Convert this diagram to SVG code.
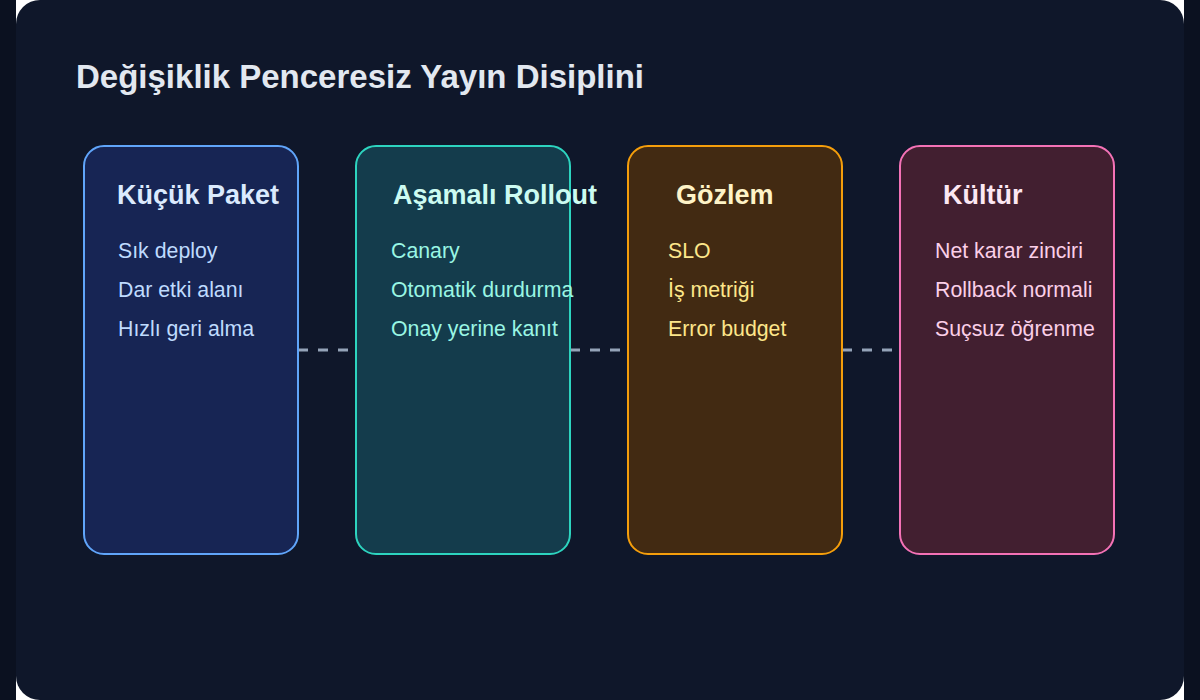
<svg xmlns="http://www.w3.org/2000/svg" width="1200" height="700" viewBox="0 0 1200 700">
<style>
.title{font-family:"Liberation Sans",Arial,sans-serif;font-weight:bold;font-size:33px;fill:#e2e8f0}
.ct{font-family:"Liberation Sans",Arial,sans-serif;font-weight:bold;font-size:27px}
.it{font-family:"Liberation Sans",Arial,sans-serif;font-size:21.3px}
.card{stroke-width:2}
.conn{stroke:#94a3b8;stroke-width:3;stroke-dasharray:10 10;fill:none}
</style>
<rect x="0" y="0" width="1200" height="700" fill="#0b1120"/>
<rect x="16" y="0" width="1168" height="700" fill="#ffffff"/>
<rect id="panel" x="16" y="0" width="1168" height="700" rx="24" fill="#0f172a"/>
<text class="title" x="76" y="88">Değişiklik Penceresiz Yayın Disiplini</text>
<g id="connectors">
<line class="conn" x1="298" y1="350" x2="356" y2="350"/>
<line class="conn" x1="570" y1="350" x2="628" y2="350"/>
<line class="conn" x1="842" y1="350" x2="900" y2="350"/>
</g>
<g id="node-kucuk-paket">
<rect class="card" x="84" y="146" width="214" height="408" rx="20" fill="#172554" stroke="#60a5fa"/>
<text class="ct" x="117" y="204" fill="#dbeafe">Küçük Paket</text>
<text class="it" x="118" y="258" fill="#bfdbfe">Sık deploy</text>
<text class="it" x="118" y="297" fill="#bfdbfe">Dar etki alanı</text>
<text class="it" x="118" y="336" fill="#bfdbfe">Hızlı geri alma</text>
</g>
<g id="node-asamali-rollout">
<rect class="card" x="356" y="146" width="214" height="408" rx="20" fill="#143c4c" stroke="#2dd4bf"/>
<text class="ct" x="393" y="204" fill="#ccfbf1">Aşamalı Rollout</text>
<text class="it" x="391" y="258" fill="#99f6e4">Canary</text>
<text class="it" x="391" y="297" fill="#99f6e4">Otomatik durdurma</text>
<text class="it" x="391" y="336" fill="#99f6e4">Onay yerine kanıt</text>
</g>
<g id="node-gozlem">
<rect class="card" x="628" y="146" width="214" height="408" rx="20" fill="#422a12" stroke="#f59e0b"/>
<text class="ct" x="676" y="204" fill="#fef3c7">Gözlem</text>
<text class="it" x="668" y="258" fill="#fde68a">SLO</text>
<text class="it" x="668" y="297" fill="#fde68a">İş metriği</text>
<text class="it" x="668" y="336" fill="#fde68a">Error budget</text>
</g>
<g id="node-kultur">
<rect class="card" x="900" y="146" width="214" height="408" rx="20" fill="#421f30" stroke="#f472b6"/>
<text class="ct" x="943" y="204" fill="#fce7f3">Kültür</text>
<text class="it" x="935" y="258" fill="#fbcfe8">Net karar zinciri</text>
<text class="it" x="935" y="297" fill="#fbcfe8">Rollback normali</text>
<text class="it" x="935" y="336" fill="#fbcfe8">Suçsuz öğrenme</text>
</g>
</svg>
